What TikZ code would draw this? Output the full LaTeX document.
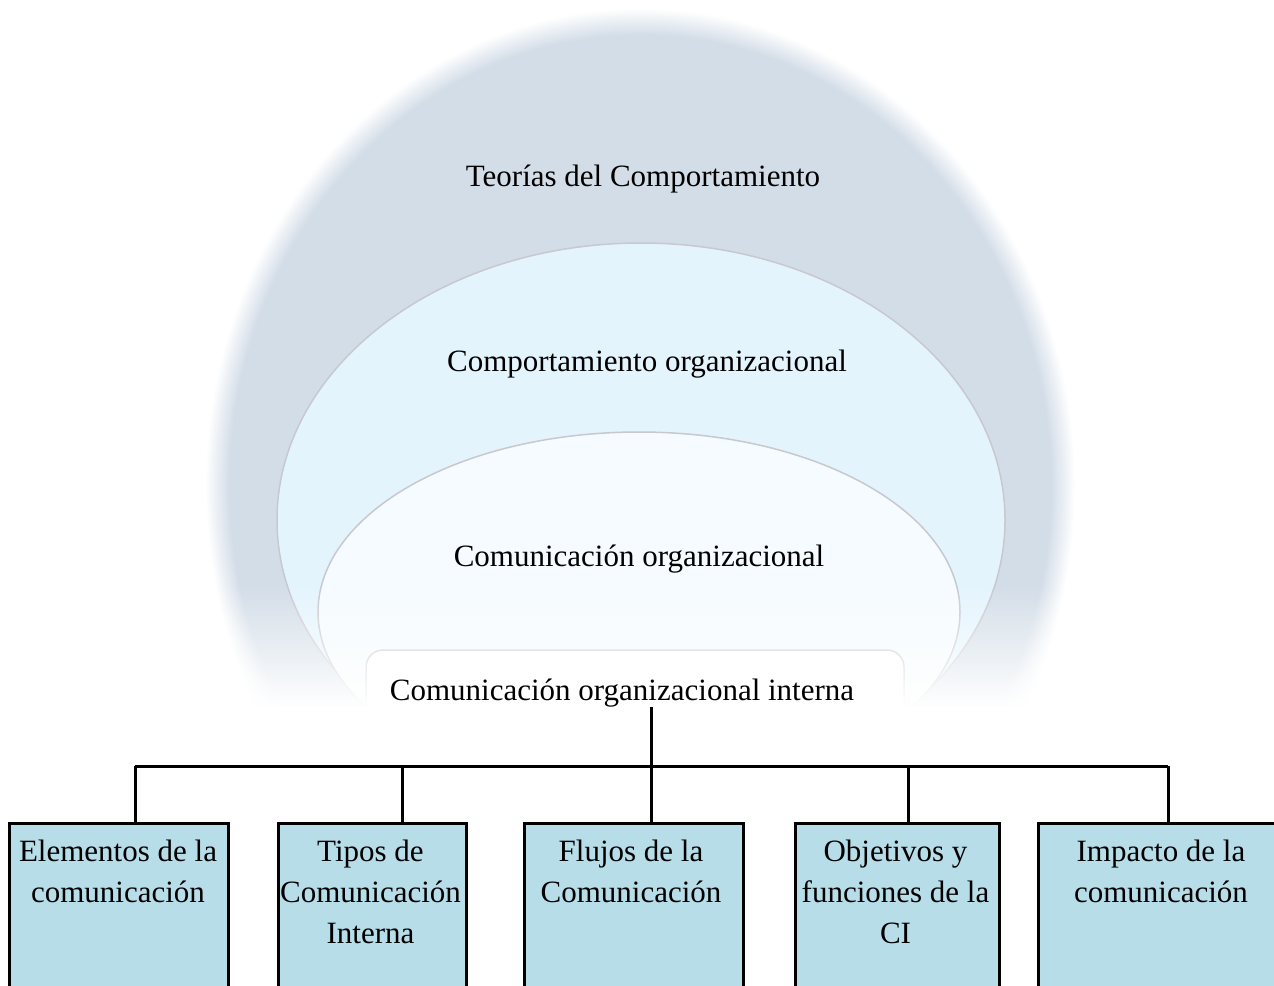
\documentclass[tikz,border=0pt]{standalone}
\usepackage{fontspec}
\setmainfont{Liberation Serif}
\usetikzlibrary{fadings,positioning}

\definecolor{teoria}{RGB}{211,221,232}
\definecolor{comport}{RGB}{228,244,253}
\definecolor{comorg}{RGB}{245,251,254}
\definecolor{cajas}{RGB}{183,221,232}
\definecolor{borde}{RGB}{200,200,207}

\pgfdeclareradialshading{halo}{\pgfpoint{0bp}{0bp}}{color(0bp)=(teoria); color(23.6bp)=(teoria); color(25bp)=(white); color(50bp)=(white)}

\tikzset{
	capa/.style={draw=borde, line width=1.5pt},
	texto/.style={inner sep=0pt, font=\fontsize{31}{41}\selectfont},
	caja/.style={draw=black, fill=cajas, line width=3pt, anchor=north west, minimum height=200pt},
	cajatexto/.style={texto, align=center, anchor=north},
	conector/.style={line width=3pt}
}

\begin{document}
\begin{tikzpicture}[x=1pt,y=-1pt]
		\useasboundingbox (0,0) rectangle (1274,985);
		\clip (0,0) rectangle (1274,985);

		\shade[shading=halo] (640,485) ellipse [x radius=435pt, y radius=477pt];
		\draw[capa, fill=comport] (641,520) ellipse [x radius=364pt, y radius=277pt];
		\draw[capa, fill=comorg] (639,612) ellipse [x radius=321pt, y radius=180pt];
		\draw[capa, fill=white, rounded corners=17pt] (366,650) rectangle (904,780);

		% desvanecido inferior
		\fill[white, path fading=north] (180,585) rectangle (1100,708);
		\fill[white] (180,707) rectangle (1100,985);

		\node[texto] (teorias) at (643,179) {Teorías del Comportamiento};
		\node[texto] (comport) at (647,364) {Comportamiento organizacional};
		\node[texto] (comorg) at (639,559) {Comunicación organizacional};
		\node[texto] (ci) at (622,693) {Comunicación organizacional interna};

		\node[caja, minimum width=219pt] (b1) at (8,822) {};
		\node[caja, minimum width=188pt] (b2) at (277,822) {};
		\node[caja, minimum width=219pt] (b3) at (523,822) {};
		\node[caja, minimum width=204pt] (b4) at (794,822) {};
		\node[caja, minimum width=253pt] (b5) at (1037,822) {};

		\node[cajatexto, below=18pt of b1.north, xshift=-1pt] (t1) {Elementos de la\\comunicación};
		\node[cajatexto, below=18pt of b2.north, xshift=-2pt] (t2) {Tipos de\\Comunicación\\Interna};
		\node[cajatexto, below=18pt of b3.north, xshift=-3pt] (t3) {Flujos de la\\Comunicación};
		\node[cajatexto, below=18pt of b4.north, xshift=-2pt] (t4) {Objetivos y\\funciones de la\\CI};
		\node[cajatexto, below=18pt of b5.north, xshift=-4pt] (t5) {Impacto de la\\comunicación};

		\coordinate (bus) at (651,766);
		\coordinate (d1) at (135,766);
		\coordinate (d2) at (402,766);
		\coordinate (d4) at (908,766);
		\coordinate (d5) at (1168,766);

		\draw[conector] (bus |- ci.south) -- (bus);
		\draw[conector] (d1) -- (d5);
		\draw[conector] (d1) -- (d1 |- b1.north);
		\draw[conector] (d2) -- (d2 |- b2.north);
		\draw[conector] (bus) -- (bus |- b3.north);
		\draw[conector] (d4) -- (d4 |- b4.north);
		\draw[conector] (d5) -- (d5 |- b5.north);
	\end{tikzpicture}
\end{document}
